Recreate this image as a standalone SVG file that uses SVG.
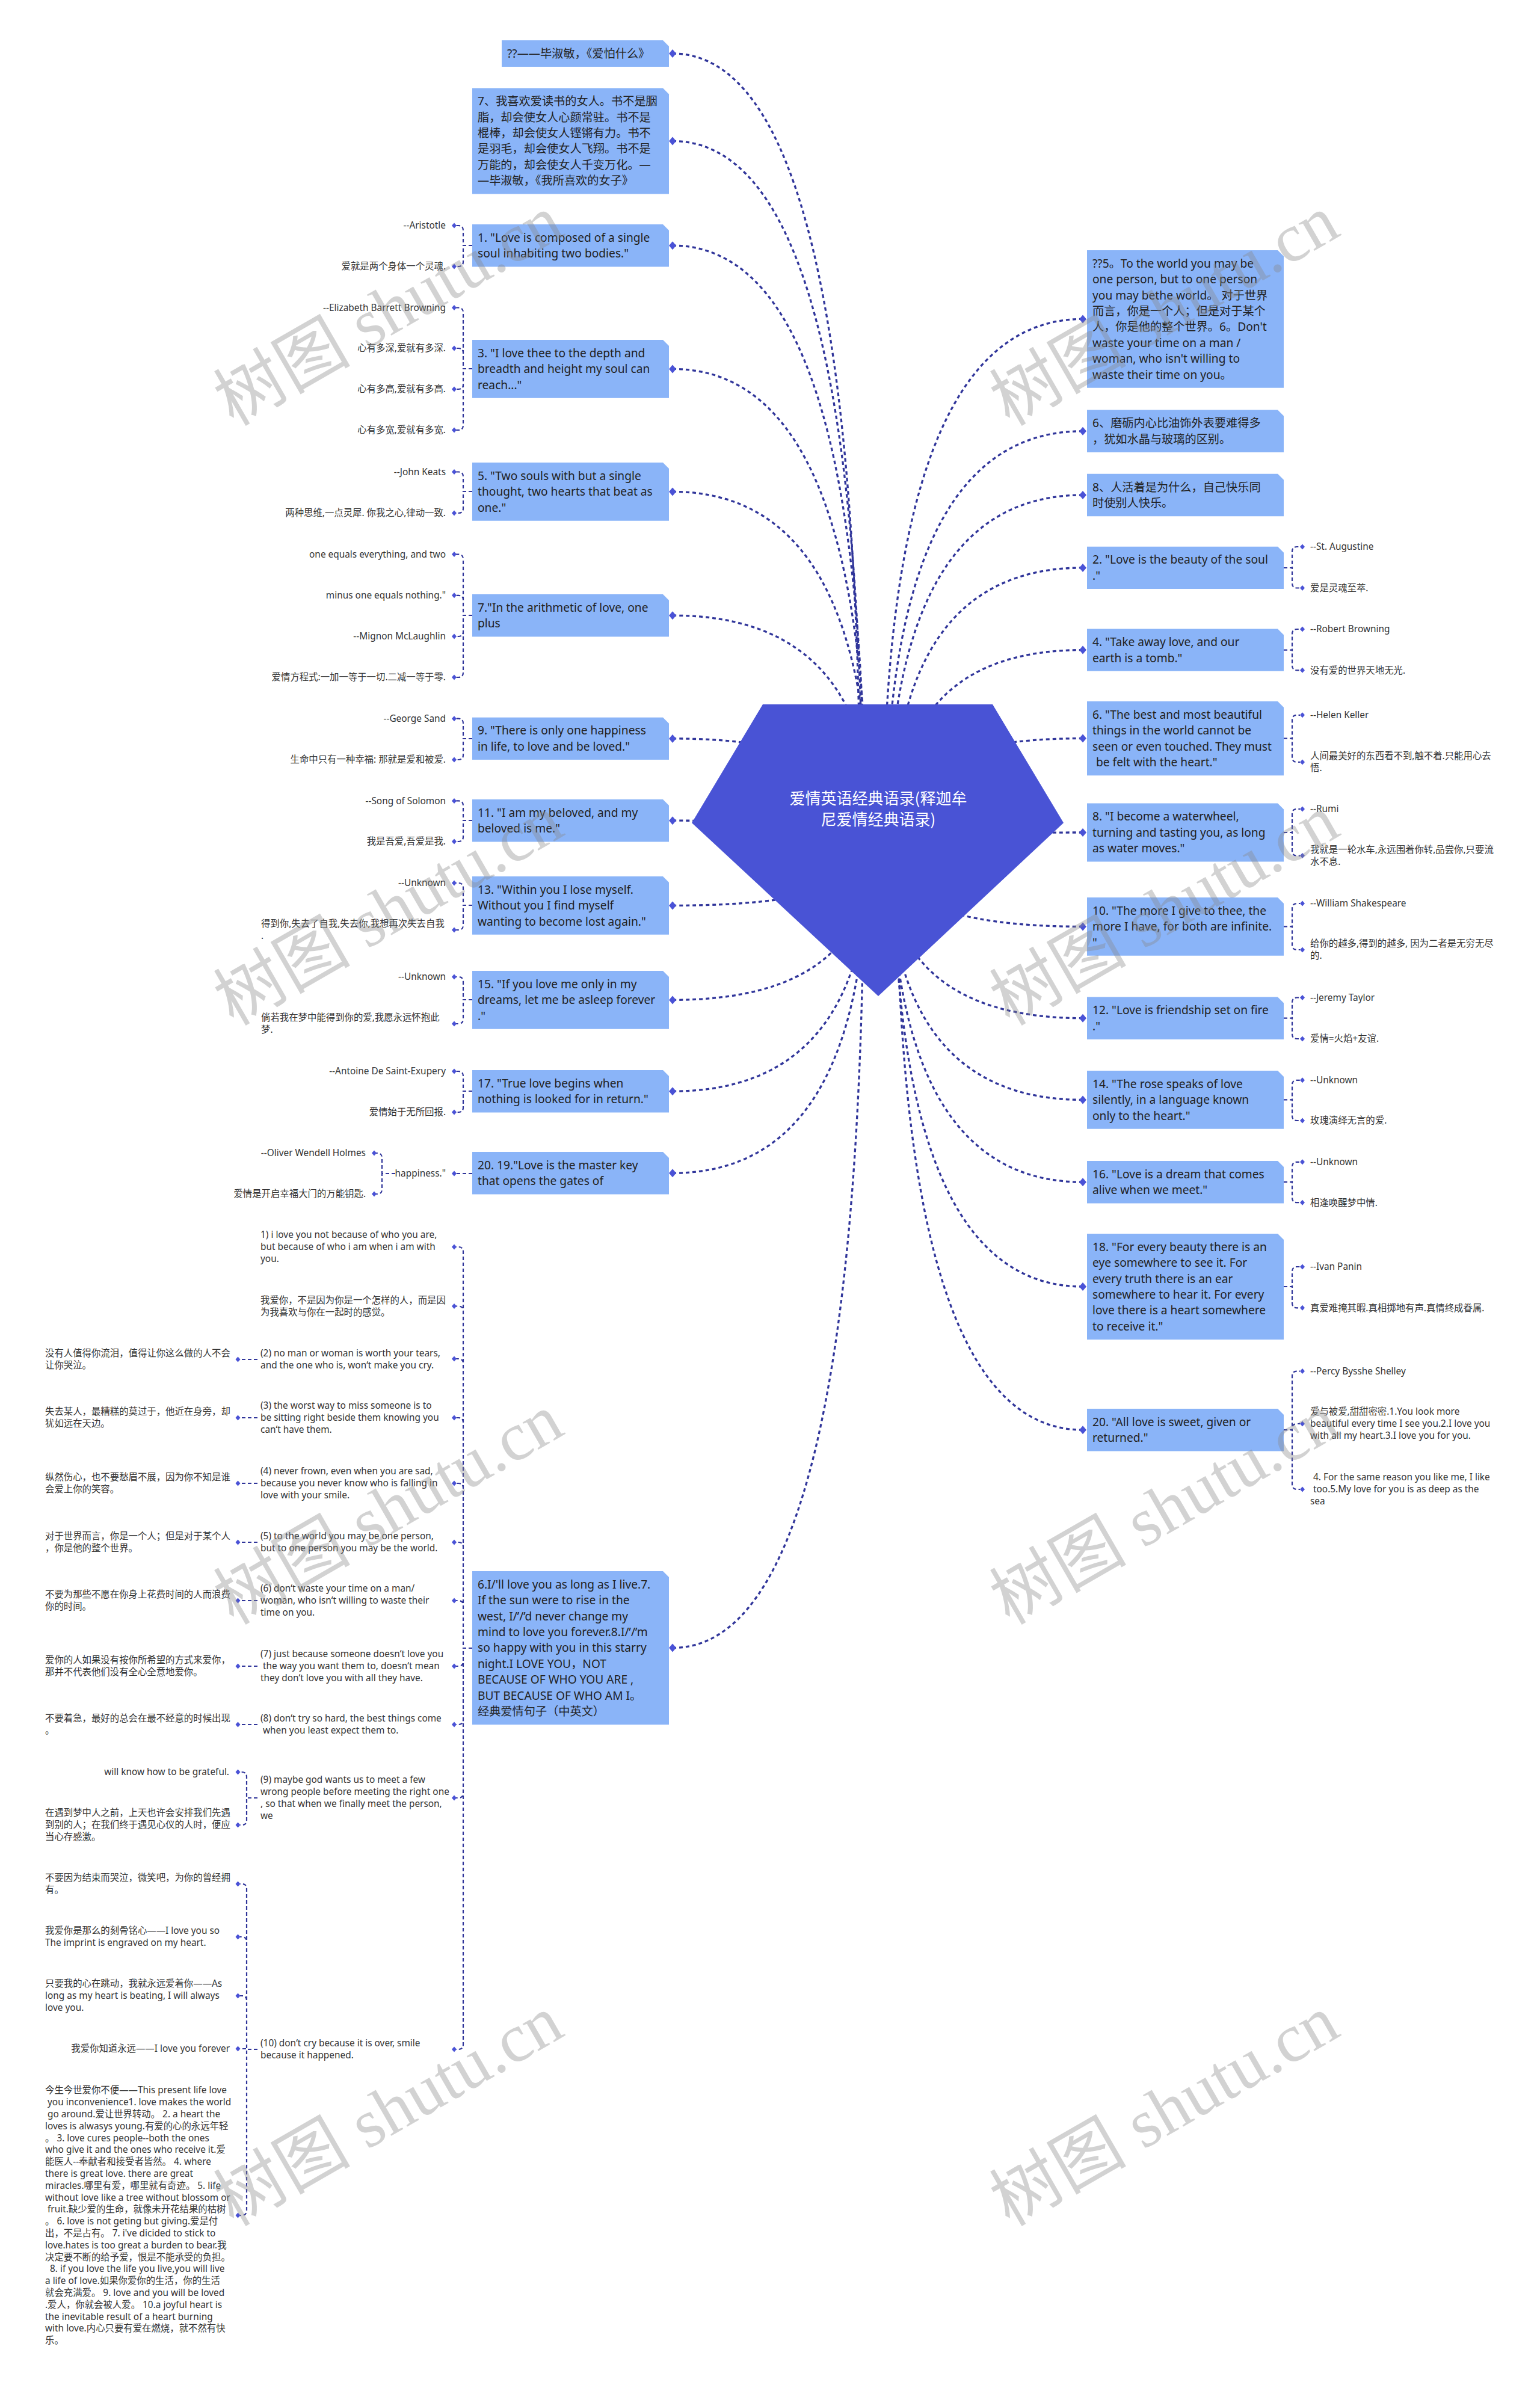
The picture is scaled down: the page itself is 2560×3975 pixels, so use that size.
<svg xmlns="http://www.w3.org/2000/svg" width="2560" height="3975" viewBox="0 0 2560 3975">
<style>
.bx{fill:#8ab4f8}
.t{font-family:"Noto Sans","Noto Sans CJK SC",sans-serif;font-size:19.2px;fill:#222}
.s{font-family:"Noto Sans","Noto Sans CJK SC",sans-serif;font-size:15.4px;fill:#333}
.e{text-anchor:end}
.mc{fill:none;stroke:#30359a;stroke-width:3.3;stroke-dasharray:6 5}
.sc{fill:none;stroke:#30359a;stroke-width:2.2;stroke-dasharray:6 4}
.ttl{font-family:"Noto Sans CJK SC",sans-serif;font-size:26px;fill:#fff;text-anchor:middle}
.wm{font-family:"Liberation Serif","Noto Sans CJK SC",serif;font-size:114px;fill:#8a8a8a;fill-opacity:0.38;text-anchor:middle}
</style>
<defs>
<path id="dm" d="M0,-7L6,0L0,7L-6,0Z" fill="#4a52d6"/>
<path id="ds" d="M0,-4.5L4,0L0,4.5L-4,0Z" fill="#4a52d6"/>
</defs>
<rect width="2560" height="3975" fill="#fff"/>

<g id="connectors">
<path class="mc" d="M1118,89Q1430,89 1430,1400"/>
<path class="mc" d="M1118,234.5Q1434,234.5 1434,1400"/>
<path class="mc" d="M1118,408.2Q1438,408.2 1438,1400"/>
<path class="mc" d="M1118,613.4Q1442,613.4 1442,1400"/>
<path class="mc" d="M1118,817.4Q1447,817.4 1447,1400"/>
<path class="mc" d="M1118,1023.2Q1452,1023.2 1452,1400"/>
<path class="mc" d="M1118,1227.9Q1455,1227.9 1455,1400"/>
<path class="mc" d="M1118,1364.2Q1460,1364.2 1460,1400"/>
<path class="mc" d="M1118,1505.4Q1455,1505.4 1455,1400"/>
<path class="mc" d="M1118,1662.4Q1450,1662.4 1450,1400"/>
<path class="mc" d="M1118,1814.2Q1446,1814.2 1446,1400"/>
<path class="mc" d="M1118,1950.2Q1442,1950.2 1442,1400"/>
<path class="mc" d="M1118,2739.6Q1436,2739.6 1436,1400"/>
<path class="mc" d="M1800,530.4Q1468,530.4 1468,1400"/>
<path class="mc" d="M1800,716.8Q1472,716.8 1472,1400"/>
<path class="mc" d="M1800,823Q1476,823 1476,1400"/>
<path class="mc" d="M1800,943.9Q1482,943.9 1482,1400"/>
<path class="mc" d="M1800,1080.6Q1488,1080.6 1488,1400"/>
<path class="mc" d="M1800,1227.6Q1465,1227.6 1465,1400"/>
<path class="mc" d="M1800,1384Q1460,1384 1460,1400"/>
<path class="mc" d="M1800,1540.4Q1465,1540.4 1465,1400"/>
<path class="mc" d="M1800,1692.7Q1470,1692.7 1470,1400"/>
<path class="mc" d="M1800,1828.4Q1475,1828.4 1475,1400"/>
<path class="mc" d="M1800,1965.2Q1480,1965.2 1480,1400"/>
<path class="mc" d="M1800,2139Q1485,2139 1485,1400"/>
<path class="mc" d="M1800,2377.2Q1490,2377.2 1490,1400"/>

<path class="sc" d="M785,408H770V383Q770,375 762,375H758M785,408H770V435Q770,443 762,443H758"/>
<path class="sc" d="M785,613H770V519.5Q770,511.5 762,511.5H758M785,613H770V587Q770,579 762,579H758M785,613H770V639Q770,647 762,647H758M785,613H770V707Q770,715 762,715H758"/>
<path class="sc" d="M785,817H770V792.5Q770,784.5 762,784.5H758M785,817H770V845Q770,853 762,853H758"/>
<path class="sc" d="M785,1023H770V929.6Q770,921.6 762,921.6H758M785,1023H770V997.8Q770,989.8 762,989.8H758M785,1023H770V1050Q770,1058 762,1058H758M785,1023H770V1118Q770,1126 762,1126H758"/>
<path class="sc" d="M785,1228H770V1202.7Q770,1194.7 762,1194.7H758M785,1228H770V1255Q770,1263 762,1263H758"/>
<path class="sc" d="M785,1364H770V1339.4Q770,1331.4 762,1331.4H758M785,1364H770V1391Q770,1399 762,1399H758"/>
<path class="sc" d="M785,1505H770V1476Q770,1468 762,1468H758M785,1505H770V1538Q770,1546 762,1546H758"/>
<path class="sc" d="M785,1662H770V1632Q770,1624 762,1624H758M785,1662H770V1694Q770,1702 762,1702H758"/>
<path class="sc" d="M785,1814H770V1789Q770,1781 762,1781H758M785,1814H770V1841Q770,1849 762,1849H758"/>
<path class="sc" d="M785,1951H758"/>
<path class="sc" d="M657,1951H635V1925Q635,1917 627,1917H625M657,1951H635V1977Q635,1985 627,1985H625"/>
<path class="sc" d="M785,2740H770V2081Q770,2073 762,2073H758M785,2740H770V2179.5Q770,2171.5 762,2171.5H758M785,2740H770V2267Q770,2259 762,2259H758M785,2740H770V2365Q770,2357 762,2357H758M785,2740H770V2474Q770,2466 762,2466H758M785,2740H770V2572Q770,2564 762,2564H758M785,2740H770V2669Q770,2661 762,2661H758M785,2740H770V2762Q770,2770 762,2770H758M785,2740H770V2859Q770,2867 762,2867H758M785,2740H770V2981Q770,2989 762,2989H758M785,2740H770V3399Q770,3407 762,3407H758"/>
<path class="sc" d="M428,2260H399M428,2357H399M428,2466H399M428,2564H399M428,2661H399M428,2770H399M428,2867H399"/>
<path class="sc" d="M428,2989H410V2954Q410,2946 402,2946H399M428,2989H410V3026Q410,3034 402,3034H399"/>
<path class="sc" d="M428,3407H410V3140Q410,3132 402,3132H399M428,3407H410V3228Q410,3220 402,3220H399M428,3407H410V3326Q410,3318 402,3318H399M428,3407H410V3406H399M428,3407H410V3675Q410,3683 402,3683H399"/>
<path class="sc" d="M2134,944H2148V917Q2148,909 2156,909H2161M2134,944H2148V969.5Q2148,977.5 2156,977.5H2161"/>
<path class="sc" d="M2134,1080.6H2148V1054Q2148,1046 2156,1046H2161M2134,1080.6H2148V1106.3Q2148,1114.3 2156,1114.3H2161"/>
<path class="sc" d="M2134,1227.6H2148V1196.8Q2148,1188.8 2156,1188.8H2161M2134,1227.6H2148V1259Q2148,1267 2156,1267H2161"/>
<path class="sc" d="M2134,1384H2148V1353Q2148,1345 2156,1345H2161M2134,1384H2148V1414.6Q2148,1422.6 2156,1422.6H2161"/>
<path class="sc" d="M2134,1540.4H2148V1510Q2148,1502 2156,1502H2161M2134,1540.4H2148V1571Q2148,1579 2156,1579H2161"/>
<path class="sc" d="M2134,1692.7H2148V1666.5Q2148,1658.5 2156,1658.5H2161M2134,1692.7H2148V1719Q2148,1727 2156,1727H2161"/>
<path class="sc" d="M2134,1828.4H2148V1803.8Q2148,1795.8 2156,1795.8H2161M2134,1828.4H2148V1855Q2148,1863 2156,1863H2161"/>
<path class="sc" d="M2134,1965.2H2148V1939.8Q2148,1931.8 2156,1931.8H2161M2134,1965.2H2148V1991.2Q2148,1999.2 2156,1999.2H2161"/>
<path class="sc" d="M2134,2139H2148V2114Q2148,2106 2156,2106H2161M2134,2139H2148V2166.3Q2148,2174.3 2156,2174.3H2161"/>
<path class="sc" d="M2134,2377.2H2148V2287.6Q2148,2279.6 2156,2279.6H2161M2134,2377.2H2148V2375Q2148,2367 2156,2367H2161M2134,2377.2H2148V2468Q2148,2476 2156,2476H2161"/>

<use href="#dm" x="1118" y="89"/><use href="#dm" x="1118" y="234.5"/><use href="#dm" x="1118" y="408.2"/><use href="#dm" x="1118" y="613.4"/><use href="#dm" x="1118" y="817.4"/><use href="#dm" x="1118" y="1023.2"/><use href="#dm" x="1118" y="1227.9"/><use href="#dm" x="1118" y="1364.2"/><use href="#dm" x="1118" y="1505.4"/><use href="#dm" x="1118" y="1662.4"/><use href="#dm" x="1118" y="1814.2"/><use href="#dm" x="1118" y="1950.2"/><use href="#dm" x="1118" y="2739.6"/>
<use href="#dm" x="1800" y="530.4"/><use href="#dm" x="1800" y="716.8"/><use href="#dm" x="1800" y="823"/><use href="#dm" x="1800" y="943.9"/><use href="#dm" x="1800" y="1080.6"/><use href="#dm" x="1800" y="1227.6"/><use href="#dm" x="1800" y="1384"/><use href="#dm" x="1800" y="1540.4"/><use href="#dm" x="1800" y="1692.7"/><use href="#dm" x="1800" y="1828.4"/><use href="#dm" x="1800" y="1965.2"/><use href="#dm" x="1800" y="2139"/><use href="#dm" x="1800" y="2377.2"/>
<use href="#ds" x="755" y="375"/><use href="#ds" x="755" y="443"/><use href="#ds" x="755" y="511.5"/><use href="#ds" x="755" y="579"/><use href="#ds" x="755" y="647"/><use href="#ds" x="755" y="715"/><use href="#ds" x="755" y="784.5"/><use href="#ds" x="755" y="853"/><use href="#ds" x="755" y="921.6"/><use href="#ds" x="755" y="989.8"/><use href="#ds" x="755" y="1058"/><use href="#ds" x="755" y="1126"/><use href="#ds" x="755" y="1194.7"/><use href="#ds" x="755" y="1263"/><use href="#ds" x="755" y="1331.4"/><use href="#ds" x="755" y="1399"/><use href="#ds" x="755" y="1468"/><use href="#ds" x="755" y="1546"/><use href="#ds" x="755" y="1624"/><use href="#ds" x="755" y="1702"/><use href="#ds" x="755" y="1781"/><use href="#ds" x="755" y="1849"/><use href="#ds" x="755" y="1951"/><use href="#ds" x="622" y="1917"/><use href="#ds" x="622" y="1985"/>
<use href="#ds" x="755" y="2073"/><use href="#ds" x="755" y="2171.5"/><use href="#ds" x="755" y="2259"/><use href="#ds" x="755" y="2357"/><use href="#ds" x="755" y="2466"/><use href="#ds" x="755" y="2564"/><use href="#ds" x="755" y="2661"/><use href="#ds" x="755" y="2770"/><use href="#ds" x="755" y="2867"/><use href="#ds" x="755" y="2989"/><use href="#ds" x="755" y="3407"/>
<use href="#ds" x="395.5" y="2260"/><use href="#ds" x="395.5" y="2357"/><use href="#ds" x="395.5" y="2466"/><use href="#ds" x="395.5" y="2564"/><use href="#ds" x="395.5" y="2661"/><use href="#ds" x="395.5" y="2770"/><use href="#ds" x="395.5" y="2867"/><use href="#ds" x="395.5" y="2946"/><use href="#ds" x="395.5" y="3034"/><use href="#ds" x="395.5" y="3132"/><use href="#ds" x="395.5" y="3220"/><use href="#ds" x="395.5" y="3318"/><use href="#ds" x="395.5" y="3406"/><use href="#ds" x="395.5" y="3683"/>
<use href="#ds" x="2165" y="909"/><use href="#ds" x="2165" y="977.5"/><use href="#ds" x="2165" y="1046"/><use href="#ds" x="2165" y="1114.3"/><use href="#ds" x="2165" y="1188.8"/><use href="#ds" x="2165" y="1267"/><use href="#ds" x="2165" y="1345"/><use href="#ds" x="2165" y="1422.6"/><use href="#ds" x="2165" y="1502"/><use href="#ds" x="2165" y="1579"/><use href="#ds" x="2165" y="1658.5"/><use href="#ds" x="2165" y="1727"/><use href="#ds" x="2165" y="1795.8"/><use href="#ds" x="2165" y="1863"/><use href="#ds" x="2165" y="1931.8"/><use href="#ds" x="2165" y="1999.2"/><use href="#ds" x="2165" y="2106"/><use href="#ds" x="2165" y="2174.3"/><use href="#ds" x="2165" y="2279.6"/><use href="#ds" x="2165" y="2367"/><use href="#ds" x="2165" y="2476"/>
</g>

<g id="root">
<polygon points="1268,1171 1650,1171 1768,1368 1460,1656 1150,1368" fill="#4953d5"/>
<text class="ttl" x="1460" y="1337">爱情英语经典语录(释迦牟</text>
<text class="ttl" x="1460" y="1372">尼爱情经典语录)</text>
</g>

<g id="nA"><path class="bx" d="M834,67H1102L1112,77V111H834Z"/><text class="t" x="843" y="95.7">??——毕淑敏，《爱怕什么》</text></g>
<g id="nB"><path class="bx" d="M785,146.5H1102L1112,156.5V322.5H785Z"/><text class="t" x="794" y="175.2">7、我喜欢爱读书的女人。书不是胭</text><text class="t" x="794" y="201.6">脂，却会使女人心颜常驻。书不是</text><text class="t" x="794" y="228">棍棒，却会使女人铿锵有力。书不</text><text class="t" x="794" y="254.4">是羽毛，却会使女人飞翔。书不是</text><text class="t" x="794" y="280.8">万能的，却会使女人千变万化。—</text><text class="t" x="794" y="307.2">—毕淑敏，《我所喜欢的女子》</text></g>
<g id="n1"><path class="bx" d="M785,373H1102L1112,383V443.4H785Z"/><text class="t" x="794" y="401.7">1. "Love is composed of a single</text><text class="t" x="794" y="428.1">soul inhabiting two bodies."</text></g>
<g id="n3"><path class="bx" d="M785,565H1102L1112,575V661.8H785Z"/><text class="t" x="794" y="593.7">3. "I love thee to the depth and</text><text class="t" x="794" y="620.1">breadth and height my soul can</text><text class="t" x="794" y="646.5">reach..."</text></g>
<g id="n5"><path class="bx" d="M785,769H1102L1112,779V865.8H785Z"/><text class="t" x="794" y="797.7">5. "Two souls with but a single</text><text class="t" x="794" y="824.1">thought, two hearts that beat as</text><text class="t" x="794" y="850.5">one."</text></g>
<g id="n7"><path class="bx" d="M785,988H1102L1112,998V1058.4H785Z"/><text class="t" x="794" y="1016.7">7."In the arithmetic of love, one</text><text class="t" x="794" y="1043.1">plus</text></g>
<g id="n9"><path class="bx" d="M785,1192.7H1102L1112,1202.7V1263.1H785Z"/><text class="t" x="794" y="1221.4">9. "There is only one happiness</text><text class="t" x="794" y="1247.8">in life, to love and be loved."</text></g>
<g id="n11"><path class="bx" d="M785,1329H1102L1112,1339V1399.4H785Z"/><text class="t" x="794" y="1357.7">11. "I am my beloved, and my</text><text class="t" x="794" y="1384.1">beloved is me."</text></g>
<g id="n13"><path class="bx" d="M785,1457H1102L1112,1467V1553.8H785Z"/><text class="t" x="794" y="1485.7">13. "Within you I lose myself.</text><text class="t" x="794" y="1512.1">Without you I find myself</text><text class="t" x="794" y="1538.5">wanting to become lost again."</text></g>
<g id="n15"><path class="bx" d="M785,1614H1102L1112,1624V1710.8H785Z"/><text class="t" x="794" y="1642.7">15. "If you love me only in my</text><text class="t" x="794" y="1669.1">dreams, let me be asleep forever</text><text class="t" x="794" y="1695.5">."</text></g>
<g id="n17"><path class="bx" d="M785,1779H1102L1112,1789V1849.4H785Z"/><text class="t" x="794" y="1807.7">17. "True love begins when</text><text class="t" x="794" y="1834.1">nothing is looked for in return."</text></g>
<g id="n20l"><path class="bx" d="M785,1915H1102L1112,1925V1985.4H785Z"/><text class="t" x="794" y="1943.7">20. 19."Love is the master key</text><text class="t" x="794" y="1970.1">that opens the gates of</text></g>
<g id="nLong"><path class="bx" d="M785,2612H1102L1112,2622V2867.2H785Z"/><text class="t" x="794" y="2640.7">6.I/'ll love you as long as I live.7.</text><text class="t" x="794" y="2667.1">If the sun were to rise in the</text><text class="t" x="794" y="2693.5">west, I/’/’d never change my</text><text class="t" x="794" y="2719.9">mind to love you forever.8.I/’/’m</text><text class="t" x="794" y="2746.3">so happy with you in this starry</text><text class="t" x="794" y="2772.7">night.I LOVE YOU，NOT</text><text class="t" x="794" y="2799.1">BECAUSE OF WHO YOU ARE ,</text><text class="t" x="794" y="2825.5">BUT BECAUSE OF WHO AM I。</text><text class="t" x="794" y="2851.9">经典爱情句子（中英文）</text></g>

<g id="nR5"><path class="bx" d="M1807,416H2124L2134,426V644.8H1807Z"/><text class="t" x="1816" y="444.7">??5。To the world you may be</text><text class="t" x="1816" y="471.1">one person, but to one person</text><text class="t" x="1816" y="497.5">you may bethe world。 对于世界</text><text class="t" x="1816" y="523.9">而言，你是一个人；但是对于某个</text><text class="t" x="1816" y="550.3">人，你是他的整个世界。6。Don't</text><text class="t" x="1816" y="576.7">waste your time on a man /</text><text class="t" x="1816" y="603.1">woman, who isn't willing to</text><text class="t" x="1816" y="629.5">waste their time on you。</text></g>
<g id="nR6"><path class="bx" d="M1807,681.6H2124L2134,691.6V752H1807Z"/><text class="t" x="1816" y="710.3">6、磨砺内心比油饰外表要难得多</text><text class="t" x="1816" y="736.7">，犹如水晶与玻璃的区别。</text></g>
<g id="nR8"><path class="bx" d="M1807,787.8H2124L2134,797.8V858.2H1807Z"/><text class="t" x="1816" y="816.5">8、人活着是为什么，自己快乐同</text><text class="t" x="1816" y="842.9">时使别人快乐。</text></g>
<g id="n2"><path class="bx" d="M1807,908.7H2124L2134,918.7V979.1H1807Z"/><text class="t" x="1816" y="937.4">2. "Love is the beauty of the soul</text><text class="t" x="1816" y="963.8">."</text></g>
<g id="n4"><path class="bx" d="M1807,1045.4H2124L2134,1055.4V1115.8H1807Z"/><text class="t" x="1816" y="1074.1">4. "Take away love, and our</text><text class="t" x="1816" y="1100.5">earth is a tomb."</text></g>
<g id="n6"><path class="bx" d="M1807,1166H2124L2134,1176V1289.2H1807Z"/><text class="t" x="1816" y="1194.7">6. "The best and most beautiful</text><text class="t" x="1816" y="1221.1">things in the world cannot be</text><text class="t" x="1816" y="1247.5">seen or even touched. They must</text><text class="t" x="1822" y="1273.9">be felt with the heart."</text></g>
<g id="n8"><path class="bx" d="M1807,1335.6H2124L2134,1345.6V1432.4H1807Z"/><text class="t" x="1816" y="1364.3">8. "I become a waterwheel,</text><text class="t" x="1816" y="1390.7">turning and tasting you, as long</text><text class="t" x="1816" y="1417.1">as water moves."</text></g>
<g id="n10"><path class="bx" d="M1807,1492H2124L2134,1502V1588.8H1807Z"/><text class="t" x="1816" y="1520.7">10. "The more I give to thee, the</text><text class="t" x="1816" y="1547.1">more I have, for both are infinite.</text><text class="t" x="1816" y="1573.5">"</text></g>
<g id="n12"><path class="bx" d="M1807,1657.5H2124L2134,1667.5V1727.9H1807Z"/><text class="t" x="1816" y="1686.2">12. "Love is friendship set on fire</text><text class="t" x="1816" y="1712.6">."</text></g>
<g id="n14"><path class="bx" d="M1807,1780H2124L2134,1790V1876.8H1807Z"/><text class="t" x="1816" y="1808.7">14. "The rose speaks of love</text><text class="t" x="1816" y="1835.1">silently, in a language known</text><text class="t" x="1816" y="1861.5">only to the heart."</text></g>
<g id="n16"><path class="bx" d="M1807,1930H2124L2134,1940V2000.4H1807Z"/><text class="t" x="1816" y="1958.7">16. "Love is a dream that comes</text><text class="t" x="1816" y="1985.1">alive when we meet."</text></g>
<g id="n18"><path class="bx" d="M1807,2051H2124L2134,2061V2227H1807Z"/><text class="t" x="1816" y="2079.7">18. "For every beauty there is an</text><text class="t" x="1816" y="2106.1">eye somewhere to see it. For</text><text class="t" x="1816" y="2132.5">every truth there is an ear</text><text class="t" x="1816" y="2158.9">somewhere to hear it. For every</text><text class="t" x="1816" y="2185.3">love there is a heart somewhere</text><text class="t" x="1816" y="2211.7">to receive it."</text></g>
<g id="n20r"><path class="bx" d="M1807,2342H2124L2134,2352V2412.4H1807Z"/><text class="t" x="1816" y="2370.7">20. "All love is sweet, given or</text><text class="t" x="1816" y="2397.1">returned."</text></g>

<g id="leftChildren">
<g id="c1a"><text class="s e" x="741" y="380.4">--Aristotle</text></g>
<g id="c1b"><text class="s e" x="741" y="448.4">爱就是两个身体一个灵魂.</text></g>
<g id="c3a"><text class="s e" x="741" y="517">--Elizabeth Barrett Browning</text></g>
<g id="c3b"><text class="s e" x="741" y="584.4">心有多深,爱就有多深.</text></g>
<g id="c3c"><text class="s e" x="741" y="652.4">心有多高,爱就有多高.</text></g>
<g id="c3d"><text class="s e" x="741" y="720.4">心有多宽,爱就有多宽.</text></g>
<g id="c5a"><text class="s e" x="741" y="790">--John Keats</text></g>
<g id="c5b"><text class="s e" x="741" y="858.4">两种思维,一点灵犀. 你我之心,律动一致.</text></g>
<g id="c7a"><text class="s e" x="741" y="927">one equals everything, and two</text></g>
<g id="c7b"><text class="s e" x="741" y="995.2">minus one equals nothing."</text></g>
<g id="c7c"><text class="s e" x="741" y="1063.4">--Mignon McLaughlin</text></g>
<g id="c7d"><text class="s e" x="741" y="1131.4">爱情方程式:一加一等于一切.二减一等于零.</text></g>
<g id="c9a"><text class="s e" x="741" y="1200">--George Sand</text></g>
<g id="c9b"><text class="s e" x="741" y="1268.4">生命中只有一种幸福: 那就是爱和被爱.</text></g>
<g id="c11a"><text class="s e" x="741" y="1336.8">--Song of Solomon</text></g>
<g id="c11b"><text class="s e" x="741" y="1404.4">我是吾爱,吾爱是我.</text></g>
<g id="c13a"><text class="s e" x="741" y="1473.4">--Unknown</text></g>
<g id="c13b"><text class="s" x="434" y="1541.4">得到你,失去了自我,失去你,我想再次失去自我</text><text class="s" x="434" y="1561.4">.</text></g>
<g id="c15a"><text class="s e" x="741" y="1629.4">--Unknown</text></g>
<g id="c15b"><text class="s" x="434" y="1697.4">倘若我在梦中能得到你的爱,我愿永远怀抱此</text><text class="s" x="434" y="1717.4">梦.</text></g>
<g id="c17a"><text class="s e" x="741" y="1786.2">--Antoine De Saint-Exupery</text></g>
<g id="c17b"><text class="s e" x="741" y="1854.2">爱情始于无所回报.</text></g>
<g id="c20h"><text class="s e" x="741" y="1956.4">happiness."</text></g>
<g id="c20a"><text class="s e" x="608" y="1922.4">--Oliver Wendell Holmes</text></g>
<g id="c20b"><text class="s e" x="608" y="1990.4">爱情是开启幸福大门的万能钥匙.</text></g>
</g>

<g id="rightChildren">
<g id="r2a"><text class="s" x="2178" y="914.4">--St. Augustine</text></g>
<g id="r2b"><text class="s" x="2178" y="983">爱是灵魂至萃.</text></g>
<g id="r4a"><text class="s" x="2178" y="1051.4">--Robert Browning</text></g>
<g id="r4b"><text class="s" x="2178" y="1119.7">没有爱的世界天地无光.</text></g>
<g id="r6a"><text class="s" x="2178" y="1194.2">--Helen Keller</text></g>
<g id="r6b"><text class="s" x="2178" y="1262.4">人间最美好的东西看不到,触不着.只能用心去</text><text class="s" x="2178" y="1282.4">悟.</text></g>
<g id="r8a"><text class="s" x="2178" y="1350.4">--Rumi</text></g>
<g id="r8b"><text class="s" x="2178" y="1418">我就是一轮水车,永远围着你转,品尝你,只要流</text><text class="s" x="2178" y="1438">水不息.</text></g>
<g id="r10a"><text class="s" x="2178" y="1507.4">--William Shakespeare</text></g>
<g id="r10b"><text class="s" x="2178" y="1574.4">给你的越多,得到的越多, 因为二者是无穷无尽</text><text class="s" x="2178" y="1594.4">的.</text></g>
<g id="r12a"><text class="s" x="2178" y="1663.9">--Jeremy Taylor</text></g>
<g id="r12b"><text class="s" x="2178" y="1732.4">爱情=火焰+友谊.</text></g>
<g id="r14a"><text class="s" x="2178" y="1801.2">--Unknown</text></g>
<g id="r14b"><text class="s" x="2178" y="1868.4">玫瑰演绎无言的爱.</text></g>
<g id="r16a"><text class="s" x="2178" y="1937.2">--Unknown</text></g>
<g id="r16b"><text class="s" x="2178" y="2004.6">相逢唤醒梦中情.</text></g>
<g id="r18a"><text class="s" x="2178" y="2111.4">--Ivan Panin</text></g>
<g id="r18b"><text class="s" x="2178" y="2179.7">真爱难掩其暇.真相掷地有声.真情终成眷属.</text></g>
<g id="r20a"><text class="s" x="2178" y="2285">--Percy Bysshe Shelley</text></g>
<g id="r20b"><text class="s" x="2178" y="2352.4">爱与被爱,甜甜密密.1.You look more</text><text class="s" x="2178" y="2372.4">beautiful every time I see you.2.I love you</text><text class="s" x="2178" y="2392.4">with all my heart.3.I love you for you.</text></g>
<g id="r20c"><text class="s" x="2183" y="2461.4">4. For the same reason you like me, I like</text><text class="s" x="2183" y="2481.4">too.5.My love for you is as deep as the</text><text class="s" x="2178" y="2501.4">sea</text></g>
</g>

<g id="longChildren">
<g id="i1"><text class="s" x="433" y="2058.4">1) i love you not because of who you are,</text><text class="s" x="433" y="2078.4">but because of who i am when i am with</text><text class="s" x="433" y="2098.4">you.</text></g>
<g id="i1b"><text class="s" x="433" y="2166.9">我爱你，不是因为你是一个怎样的人，而是因</text><text class="s" x="433" y="2186.9">为我喜欢与你在一起时的感觉。</text></g>
<g id="i2"><text class="s" x="433" y="2255.4">(2) no man or woman is worth your tears,</text><text class="s" x="433" y="2275.4">and the one who is, won‘t make you cry.</text></g>
<g id="i3"><text class="s" x="433" y="2342.4">(3) the worst way to miss someone is to</text><text class="s" x="433" y="2362.4">be sitting right beside them knowing you</text><text class="s" x="433" y="2382.4">can‘t have them.</text></g>
<g id="i4"><text class="s" x="433" y="2451.4">(4) never frown, even when you are sad,</text><text class="s" x="433" y="2471.4">because you never know who is falling in</text><text class="s" x="433" y="2491.4">love with your smile.</text></g>
<g id="i5"><text class="s" x="433" y="2559.4">(5) to the world you may be one person,</text><text class="s" x="433" y="2579.4">but to one person you may be the world.</text></g>
<g id="i6"><text class="s" x="433" y="2646.4">(6) don‘t waste your time on a man/</text><text class="s" x="433" y="2666.4">woman, who isn‘t willing to waste their</text><text class="s" x="433" y="2686.4">time on you.</text></g>
<g id="i7"><text class="s" x="433" y="2755.4">(7) just because someone doesn‘t love you</text><text class="s" x="437" y="2775.4">the way you want them to, doesn‘t mean</text><text class="s" x="433" y="2795.4">they don‘t love you with all they have.</text></g>
<g id="i8"><text class="s" x="433" y="2862.4">(8) don‘t try so hard, the best things come</text><text class="s" x="437" y="2882.4">when you least expect them to.</text></g>
<g id="i9"><text class="s" x="433" y="2964.4">(9) maybe god wants us to meet a few</text><text class="s" x="433" y="2984.4">wrong people before meeting the right one</text><text class="s" x="433" y="3004.4">, so that when we finally meet the person,</text><text class="s" x="433" y="3024.4">we</text></g>
<g id="i10"><text class="s" x="433" y="3402.4">(10) don‘t cry because it is over, smile</text><text class="s" x="433" y="3422.4">because it happened.</text></g>
<g id="l2"><text class="s" x="75" y="2255.4">没有人值得你流泪，值得让你这么做的人不会</text><text class="s" x="75" y="2275.4">让你哭泣。</text></g>
<g id="l3"><text class="s" x="75" y="2352.4">失去某人，最糟糕的莫过于，他近在身旁，却</text><text class="s" x="75" y="2372.4">犹如远在天边。</text></g>
<g id="l4"><text class="s" x="75" y="2461.4">纵然伤心，也不要愁眉不展，因为你不知是谁</text><text class="s" x="75" y="2481.4">会爱上你的笑容。</text></g>
<g id="l5"><text class="s" x="75" y="2559.4">对于世界而言，你是一个人；但是对于某个人</text><text class="s" x="75" y="2579.4">，你是他的整个世界。</text></g>
<g id="l6"><text class="s" x="75" y="2656.4">不要为那些不愿在你身上花费时间的人而浪费</text><text class="s" x="75" y="2676.4">你的时间。</text></g>
<g id="l7"><text class="s" x="75" y="2765.4">爱你的人如果没有按你所希望的方式来爱你，</text><text class="s" x="75" y="2785.4">那并不代表他们没有全心全意地爱你。</text></g>
<g id="l8"><text class="s" x="75" y="2862.4">不要着急，最好的总会在最不经意的时候出现</text><text class="s" x="75" y="2882.4">。</text></g>
<g id="l9a"><text class="s e" x="381" y="2951.4">will know how to be grateful.</text></g>
<g id="l9b"><text class="s" x="75" y="3019.4">在遇到梦中人之前，上天也许会安排我们先遇</text><text class="s" x="75" y="3039.4">到别的人；在我们终于遇见心仪的人时，便应</text><text class="s" x="75" y="3059.4">当心存感激。</text></g>
<g id="l10a"><text class="s" x="75" y="3127.4">不要因为结束而哭泣，微笑吧，为你的曾经拥</text><text class="s" x="75" y="3147.4">有。</text></g>
<g id="l10b"><text class="s" x="75" y="3215.4">我爱你是那么的刻骨铭心——I love you so</text><text class="s" x="75" y="3235.4">The imprint is engraved on my heart.</text></g>
<g id="l10c"><text class="s" x="75" y="3303.4">只要我的心在跳动，我就永远爱着你——As</text><text class="s" x="75" y="3323.4">long as my heart is beating, I will always</text><text class="s" x="75" y="3343.4">love you.</text></g>
<g id="l10d"><text class="s e" x="382" y="3411.4">我爱你知道永远——I love you forever</text></g>
<g id="l10e">
<text class="s" x="75" y="3480.4">今生今世爱你不便——This present life love</text>
<text class="s" x="79" y="3500.2">you inconvenience1. love makes the world</text>
<text class="s" x="79" y="3520">go around.爱让世界转动。  2. a heart the</text>
<text class="s" x="75" y="3539.8">loves is alwasys young.有爱的心的永远年轻</text>
<text class="s" x="75" y="3559.6">。  3. love cures people--both the ones</text>
<text class="s" x="75" y="3579.4">who give it and the ones who receive it.爱</text>
<text class="s" x="75" y="3599.2">能医人--奉献者和接受者皆然。  4. where</text>
<text class="s" x="75" y="3619">there is great love. there are great</text>
<text class="s" x="75" y="3638.8">miracles.哪里有爱，哪里就有奇迹。  5. life</text>
<text class="s" x="75" y="3658.6">without love like a tree without blossom or</text>
<text class="s" x="79" y="3678.4">fruit.缺少爱的生命，就像未开花结果的枯树</text>
<text class="s" x="75" y="3698.2">。  6. love is not geting but giving.爱是付</text>
<text class="s" x="75" y="3718">出，不是占有。  7. i've dicided to stick to</text>
<text class="s" x="75" y="3737.8">love.hates is too great a burden to bear.我</text>
<text class="s" x="75" y="3757.6">决定要不断的给予爱，恨是不能承受的负担。</text>
<text class="s" x="83" y="3777.4">8. if you love the life you live,you will live</text>
<text class="s" x="75" y="3797.2">a life of love.如果你爱你的生活，你的生活</text>
<text class="s" x="75" y="3817">就会充满爱。  9. love and you will be loved</text>
<text class="s" x="75" y="3836.8">.爱人，你就会被人爱。  10.a joyful heart is</text>
<text class="s" x="75" y="3856.6">the inevitable result of a heart burning</text>
<text class="s" x="75" y="3876.4">with love.内心只要有爱在燃烧，就不然有快</text>
<text class="s" x="75" y="3896.2">乐。</text>
</g>
</g>

<g id="watermarks">
<text class="wm" x="645" y="555" transform="rotate(-30 645 515)">树图 shutu.cn</text>
<text class="wm" x="1935" y="555" transform="rotate(-30 1935 515)">树图 shutu.cn</text>
<text class="wm" x="645" y="1552" transform="rotate(-30 645 1512)">树图 shutu.cn</text>
<text class="wm" x="1935" y="1552" transform="rotate(-30 1935 1512)">树图 shutu.cn</text>
<text class="wm" x="645" y="2548" transform="rotate(-30 645 2508)">树图 shutu.cn</text>
<text class="wm" x="1935" y="2548" transform="rotate(-30 1935 2508)">树图 shutu.cn</text>
<text class="wm" x="645" y="3548" transform="rotate(-30 645 3508)">树图 shutu.cn</text>
<text class="wm" x="1935" y="3548" transform="rotate(-30 1935 3508)">树图 shutu.cn</text>
</g>
</svg>
